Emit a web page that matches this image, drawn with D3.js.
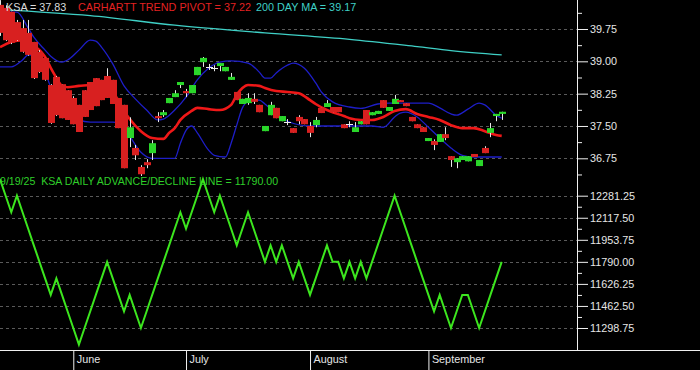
<!DOCTYPE html>
<html><head><meta charset="utf-8">
<script src="https://cdn.jsdelivr.net/npm/d3@7/dist/d3.min.js"></script>
<style>
html,body{margin:0;padding:0;background:#000;}
svg{display:block;}
text{font-family:"Liberation Sans",Arial,Helvetica,sans-serif;}
</style></head><body>
<svg id="chart" width="700" height="370"></svg>
<script>
// ---------- DATA ----------
const startDate = "2025-05-13";
const holidays = ["2025-05-26","2025-06-19","2025-07-04","2025-09-01"];
const dayCount = 90;
const monthNames = ["January","February","March","April","May","June","July","August","September","October","November","December"];

const open  = [40.31,40.24,40.15,39.91,39.77,39.66,39.45,39.22,39.08,38.45,
               38.64,38.47,38.33,38.15,37.99,38.33,38.52,38.61,38.57,38.66,
               38.57,38.15,37.99,37.22,36.99,36.55,36.66,36.87,37.73,37.75,
               38.03,38.17,38.45,38.31,38.26,38.68,38.98,38.87,38.84,38.89,
               38.77,38.57,38.29,38.01,38.03,38.13,37.99,37.38,37.75,37.92,
               37.61,37.59,37.45,37.71,37.66,37.50,37.52,37.92,37.94,37.94,
               37.94,37.54,37.54,37.36,37.54,37.87,37.75,37.78,38.10,37.85,
               38.01,38.10,38.03,37.71,37.54,37.47,37.15,37.15,37.13,37.31,
               36.80,36.66,36.71,36.68,36.85,36.57,36.99,37.34,37.73,37.78];
const high  = [40.42,40.30,40.15,39.96,39.96,39.96,39.45,39.26,39.08,38.47,
               38.66,38.47,38.33,38.19,37.99,38.33,38.52,38.61,38.57,38.84,
               38.57,38.15,37.99,37.70,37.06,36.59,36.73,37.17,37.82,37.87,
               38.15,38.33,38.52,38.36,38.45,38.87,39.10,38.94,38.91,38.96,
               38.87,38.73,38.29,38.13,38.26,38.26,37.99,37.50,38.06,37.92,
               37.73,37.66,37.45,37.75,37.66,37.59,37.71,37.92,38.10,37.94,
               37.94,37.54,37.61,37.59,37.61,37.87,37.82,37.85,38.10,37.94,
               38.22,38.10,38.03,37.71,37.54,37.47,37.22,37.19,37.31,37.47,
               36.80,36.75,36.80,36.80,36.85,36.71,37.03,37.57,37.78,37.83];
const low   = [39.59,39.47,39.40,39.47,39.20,39.13,38.59,38.73,38.55,37.55,
               37.73,37.68,37.64,37.54,37.36,37.71,37.87,37.96,38.10,38.15,
               38.01,37.45,36.52,37.01,36.71,36.34,36.52,36.71,37.59,37.71,
               38.03,38.17,38.38,38.17,38.26,38.68,38.87,38.80,38.77,38.77,
               38.77,38.57,38.10,38.01,37.99,38.01,37.82,37.38,37.75,37.68,
               37.61,37.52,37.34,37.54,37.54,37.24,37.47,37.80,37.94,37.82,
               37.82,37.45,37.47,37.36,37.54,37.54,37.75,37.78,37.92,37.85,
               38.01,38.06,37.96,37.61,37.45,37.36,37.15,36.94,37.13,37.17,
               36.55,36.52,36.71,36.68,36.78,36.57,36.87,37.24,37.61,37.64];
const close = [39.66,39.49,39.43,39.49,39.22,39.15,38.61,38.75,38.57,37.57,
               37.75,37.68,37.64,37.54,37.36,37.71,37.87,37.96,38.10,38.15,
               38.01,37.45,36.52,37.47,36.82,36.38,36.59,37.10,37.68,37.82,
               38.15,38.26,38.52,38.26,38.45,38.87,39.08,38.87,38.84,38.96,
               38.87,38.64,38.10,38.13,38.15,38.06,37.82,37.50,37.99,37.68,
               37.73,37.59,37.34,37.61,37.54,37.34,37.64,37.80,38.03,37.82,
               37.82,37.45,37.54,37.47,37.61,37.54,37.82,37.85,37.92,37.94,
               38.13,38.06,37.96,37.61,37.45,37.36,37.22,37.06,37.31,37.22,
               36.71,36.75,36.80,36.80,36.78,36.71,36.87,37.45,37.78,37.83];

// Carhartt trend pivot (red), read at day indexes
const pivotDays = [0,2,4,5,7,8,9,10,11,12,14,16,18,19,20,21,22,23,25,27,29,30,31,32,34,35,37,39,41,42,43,44,46,47,49,51,53,55,56,58,59,61,62,64,66,68,70,72,74,76,78,80,82,84,86,88,89];
const pivotVals = [39.33,39.45,39.49,39.45,39.26,39.10,38.85,38.62,38.43,38.40,38.43,38.45,38.50,38.45,38.31,38.08,37.85,37.66,37.38,37.22,37.20,37.34,37.45,37.64,37.85,37.92,37.89,37.87,37.99,38.22,38.38,38.45,38.43,38.38,38.31,38.29,38.26,38.10,38.01,37.87,37.82,37.73,37.68,37.64,37.64,37.71,37.85,37.89,37.78,37.71,37.64,37.52,37.45,37.45,37.38,37.29,37.27];

// upper band (blue)
const upperDays = [0,1,2,3,5,6,8,9,11,12,14,16,17,18,20,22,24,26,28,29,31,33,35,37,39,41,44,46,47,48,49,51,52,54,56,57,59,62,64,67,69,72,76,78,80,81,83,85,86,88,89];
const upperVals = [39.68,40.03,40.14,40.14,39.77,39.56,39.26,39.12,38.98,39.03,39.26,39.49,39.47,39.33,38.94,38.43,38.13,37.87,37.64,37.66,37.87,38.17,38.57,38.84,38.98,39.01,38.96,38.75,38.61,38.61,38.73,38.91,38.96,38.84,38.50,38.29,38.06,37.94,37.91,38.01,38.03,38.03,38.03,37.92,37.78,37.75,37.89,38.03,37.99,37.75,37.68];

// lower band (blue)
const lowerDays = [0,2,4,5,6,7,8,9,10,12,14,16,20,22,23,25,27,31,32,33,34,35,37,38,40,41,42,43,44,46,47,49,51,55,62,66,68,70,71,72,74,76,78,80,82,84,89];
const lowerVals = [38.87,38.87,39.03,39.15,39.12,38.98,38.75,38.40,38.17,37.80,37.64,37.59,37.59,37.47,37.27,36.89,36.75,36.75,37.10,37.40,37.50,37.34,36.94,36.82,36.78,37.10,37.52,37.92,38.06,38.10,38.01,37.78,37.61,37.50,37.50,37.50,37.47,37.71,37.80,37.82,37.71,37.47,37.22,36.99,36.82,36.78,36.78];

// 200 day moving average (cyan)
const maDays = [0,16,31,47,62,74,80,89];
const maVals = [40.20,40.06,39.84,39.66,39.51,39.34,39.25,39.15];

// KSA daily advance/decline line
const adLine = [12404.06,12281.25,12158.44,12281.25,12158.44,12035.63,11912.81,11790.00,11667.19,11544.38,
                11667.19,11544.38,11421.56,11298.75,11175.94,11298.75,11421.56,11544.38,11667.19,11790.00,
                11667.19,11544.38,11421.56,11544.38,11421.56,11298.75,11421.56,11544.38,11667.19,11790.00,
                11912.81,12035.63,12158.44,12035.63,12158.44,12281.25,12404.06,12281.25,12158.44,12281.25,
                12158.44,12035.63,11912.81,12035.63,12158.44,12035.63,11912.81,11790.00,11912.81,11790.00,
                11912.81,11790.00,11667.19,11790.00,11667.19,11544.38,11667.19,11790.00,11912.81,11790.00,
                11790.00,11667.19,11790.00,11667.19,11790.00,11667.19,11790.00,11912.81,12035.63,12158.44,
                12281.25,12158.44,12035.63,11912.81,11790.00,11667.19,11544.38,11421.56,11544.38,11421.56,
                11298.75,11421.56,11544.38,11544.38,11421.56,11298.75,11421.56,11544.38,11667.19,11790.00];

const priceMajorTicks = [36.75,37.50,38.25,39.00,39.75];
const priceMinorTicks = [36.375,37.125,37.875,38.625,39.375,40.125];
const adMajorTicks = [11298.75,11462.50,11626.25,11790.00,11953.75,12117.50,12281.25];
const adMinorTicks = [11380.625,11544.375,11708.125,11871.875,12035.625,12199.375];

const legendTop = [
  {text:"KSA = 37.83", color:"#dcdcdc"},
  {text:"CARHARTT TREND PIVOT = 37.22", color:"#e42222"},
  {text:"200 DAY MA = 39.17", color:"#3fd0c6"}
];
const legendBottom = "9/19/25  KSA DAILY ADVANCE/DECLINE LINE = 11790.00";

// ---------- BUILD TRADING DAYS ----------
const days = [];
{
  let d = new Date(startDate + "T12:00:00Z");
  const fmt = d3.utcFormat("%Y-%m-%d");
  while (days.length < dayCount) {
    const wd = d.getUTCDay();
    if (wd !== 0 && wd !== 6 && !holidays.includes(fmt(d))) days.push(new Date(d));
    d = new Date(d.getTime() + 86400000);
  }
}
const monthStarts = [];
days.forEach((d, i) => {
  if (i > 0 && d.getUTCMonth() !== days[i-1].getUTCMonth()) monthStarts.push(i);
});

// ---------- SCALES ----------
const svg = d3.select("#chart");
const axisX = 577;
const x = d3.scaleLinear().domain([0, dayCount - 1]).range([0, 501.7]);
const yP = d3.scaleLinear().domain([36.75, 39.75]).range([158.3, 29]);
const yA = d3.scaleLinear().domain([11298.75, 12281.25]).range([328, 195.7]);

svg.append("rect").attr("width",700).attr("height",370).attr("fill","#000");

// gridlines
const grid = svg.append("g").attr("stroke","#5a5a5a").attr("stroke-width",1).attr("stroke-dasharray","3,3");
priceMajorTicks.forEach(v => grid.append("line").attr("x1",0).attr("x2",axisX).attr("y1",Math.round(yP(v))+0.5).attr("y2",Math.round(yP(v))+0.5));
adMajorTicks.forEach(v => grid.append("line").attr("x1",0).attr("x2",axisX).attr("y1",Math.round(yA(v))+0.5).attr("y2",Math.round(yA(v))+0.5));

// ---------- UPPER PANEL ----------
const lineGen = (ys) => d3.line().x(d => x(d[0])).y(d => ys(d[1])).curve(d3.curveMonotoneX);
const zip = (a, b) => a.map((v, i) => [v, b[i]]);

svg.append("path").datum(zip(maDays, maVals)).attr("d", lineGen(yP))
  .attr("fill","none").attr("stroke","#3fd0c6").attr("stroke-width",1.3);
svg.append("path").datum(zip(upperDays, upperVals)).attr("d", lineGen(yP))
  .attr("fill","none").attr("stroke","#1e1ec8").attr("stroke-width",1.3);
svg.append("path").datum(zip(lowerDays, lowerVals)).attr("d", lineGen(yP))
  .attr("fill","none").attr("stroke","#1e1ec8").attr("stroke-width",1.3);
svg.append("path").datum(zip(pivotDays, pivotVals)).attr("d", lineGen(yP))
  .attr("fill","none").attr("stroke","#f01818").attr("stroke-width",2.6);

// candles
const candles = d3.range(dayCount).map(i => ({i, o:open[i], h:high[i], l:low[i], c:close[i]}));
const bw = 7;
const cg = svg.append("g");
cg.selectAll("line.wick").data(candles).join("line")
  .attr("x1", d => Math.round(x(d.i)) + 0.5).attr("x2", d => Math.round(x(d.i)) + 0.5)
  .attr("y1", d => yP(d.h)).attr("y2", d => yP(d.l))
  .attr("stroke","#e8e8e8").attr("stroke-width",1);
cg.selectAll("rect.body").data(candles.filter(d => d.o !== d.c)).join("rect")
  .attr("x", d => Math.round(x(d.i)) - 3)
  .attr("y", d => yP(Math.max(d.o, d.c)))
  .attr("width", bw)
  .attr("height", d => Math.max(2, Math.abs(yP(d.o) - yP(d.c))))
  .attr("fill", d => d.c > d.o ? "#2ad62a" : "#d82020");
cg.selectAll("line.doji").data(candles.filter(d => d.o === d.c)).join("line")
  .attr("x1", d => Math.round(x(d.i)) - 3).attr("x2", d => Math.round(x(d.i)) + 4)
  .attr("y1", d => Math.round(yP(d.o)) + 0.5).attr("y2", d => Math.round(yP(d.o)) + 0.5)
  .attr("stroke","#f0f0f0").attr("stroke-width",1);

// ---------- LOWER PANEL ----------
svg.append("path").datum(adLine).attr("fill","none").attr("stroke","#3ce61e").attr("stroke-width",2)
  .attr("stroke-linejoin","miter")
  .attr("d", d3.line().x((d, i) => x(i)).y(d => yA(d)));

// ---------- AXES ----------
svg.append("line").attr("x1",axisX+0.5).attr("x2",axisX+0.5).attr("y1",0).attr("y2",350).attr("stroke","#f0f0f0");
svg.append("line").attr("x1",0).attr("x2",700).attr("y1",350.5).attr("y2",350.5).attr("stroke","#f0f0f0");

function rightAxis(scale, major, minor) {
  const gMaj = svg.append("g").attr("transform",`translate(${axisX},0)`)
    .call(d3.axisRight(scale).tickValues(major).tickSize(11).tickPadding(2).tickFormat(d3.format(".2f")));
  const gMin = svg.append("g").attr("transform",`translate(${axisX},0)`)
    .call(d3.axisRight(scale).tickValues(minor).tickSize(5).tickFormat(""));
  [gMaj, gMin].forEach(g => {
    g.select(".domain").remove();
    g.selectAll("line").attr("stroke","#f0f0f0");
    g.selectAll("text").attr("fill","#e6e6e6").style("font-size","10.8px")
      .style("font-family","'Liberation Sans',Arial,sans-serif");
  });
}
rightAxis(yP, priceMajorTicks, priceMinorTicks);
rightAxis(yA, adMajorTicks, adMinorTicks);

// month axis
const gm = svg.append("g").attr("transform","translate(0,350)")
  .call(d3.axisBottom(x).tickValues(monthStarts).tickSize(20).tickPadding(0)
    .tickFormat(i => monthNames[days[i].getUTCMonth()]));
gm.select(".domain").remove();
gm.selectAll(".tick line").attr("stroke","#f0f0f0");
gm.selectAll(".tick text").attr("fill","#e6e6e6").attr("text-anchor","start")
  .attr("x",3).attr("y",13).attr("dy",0).style("font-size","10.8px")
  .style("font-family","'Liberation Sans',Arial,sans-serif");

// ---------- LEGENDS ----------
const legendX = [6, 78, 256];
legendTop.forEach((l, k) => {
  svg.append("text").attr("x", legendX[k]).attr("y",10.5)
    .style("font-size","10.8px").attr("fill", l.color).text(l.text);
});
svg.append("text").attr("x",0).attr("y",185).style("font-size","10.6px")
  .style("white-space","pre").attr("fill","#2fcf2a").text(legendBottom);
</script>
</body></html>
